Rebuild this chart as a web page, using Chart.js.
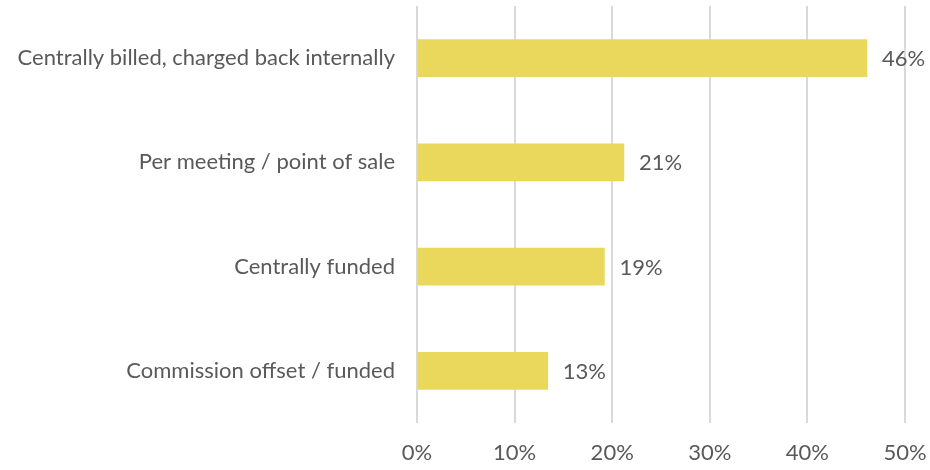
<!DOCTYPE html>
<html lang="en">
<head>
    <meta charset="UTF-8">
    <title>Billing Method</title>
    <style>
        html, body {
            margin: 0;
            padding: 0;
            background: #fff;
        }
        .container {
            width: 930px;
            height: 470px;
        }
    </style>
</head>
<body>
    <div class="container">
        <canvas id="chart" width="930" height="470"></canvas>
    </div>

    <script src="https://cdn.jsdelivr.net/npm/chart.js"></script>
    <script>
        // chart data
        const categories = [
            'Centrally billed, charged back internally',
            'Per meeting / point of sale',
            'Centrally funded',
            'Commission offset / funded'
        ];
        const shares = [46.1, 21.2, 19.2, 13.4];
        const xTicks = [0, 10, 20, 30, 40, 50];

        const textColor = '#595959';
        const fontFamily = 'Lato, "Open Sans", sans-serif';
        const fontSize = 22;

        // draws the % value just right of each bar
        const valueLabels = {
            id: 'valueLabels',
            afterDatasetsDraw(chart) {
                const ctx = chart.ctx;
                const meta = chart.getDatasetMeta(0);
                ctx.save();
                ctx.font = fontSize + 'px ' + fontFamily;
                ctx.fillStyle = textColor;
                ctx.textAlign = 'left';
                ctx.textBaseline = 'middle';
                meta.data.forEach((bar, i) => {
                    ctx.fillText(Math.round(shares[i]) + '%', bar.x + 15, bar.y + 1);
                });
                ctx.restore();
            }
        };

        const ctx = document.getElementById('chart').getContext('2d');
        new Chart(ctx, {
            type: 'bar',
            data: {
                labels: categories,
                datasets: [{
                    data: shares,
                    backgroundColor: '#E9D85C',
                    barThickness: 37
                }]
            },
            options: {
                indexAxis: 'y',
                responsive: false,
                animation: false,
                layout: {
                    padding: { top: 6, right: 25, bottom: 0, left: 0 }
                },
                plugins: {
                    legend: { display: false },
                    tooltip: { enabled: false }
                },
                scales: {
                    x: {
                        min: 0,
                        max: 50,
                        afterBuildTicks: axis => {
                            axis.ticks = xTicks.map(v => ({ value: v }));
                        },
                        afterFit: axis => {
                            axis.height = 47;
                            axis.paddingLeft = 0;
                            axis.paddingRight = 0;
                        },
                        grid: {
                            color: '#D9D9D9',
                            lineWidth: 2,
                            drawTicks: false
                        },
                        border: { display: false },
                        ticks: {
                            padding: 17,
                            color: textColor,
                            font: { family: fontFamily, size: fontSize },
                            callback: v => v + '%'
                        }
                    },
                    y: {
                        afterFit: axis => {
                            axis.width = 417;
                            axis.paddingTop = 0;
                            axis.paddingBottom = 0;
                        },
                        grid: { display: false, drawTicks: false },
                        border: { display: false },
                        ticks: {
                            padding: 22,
                            color: textColor,
                            font: { family: fontFamily, size: fontSize }
                        }
                    }
                }
            },
            plugins: [valueLabels]
        });
    </script>
</body>
</html>
